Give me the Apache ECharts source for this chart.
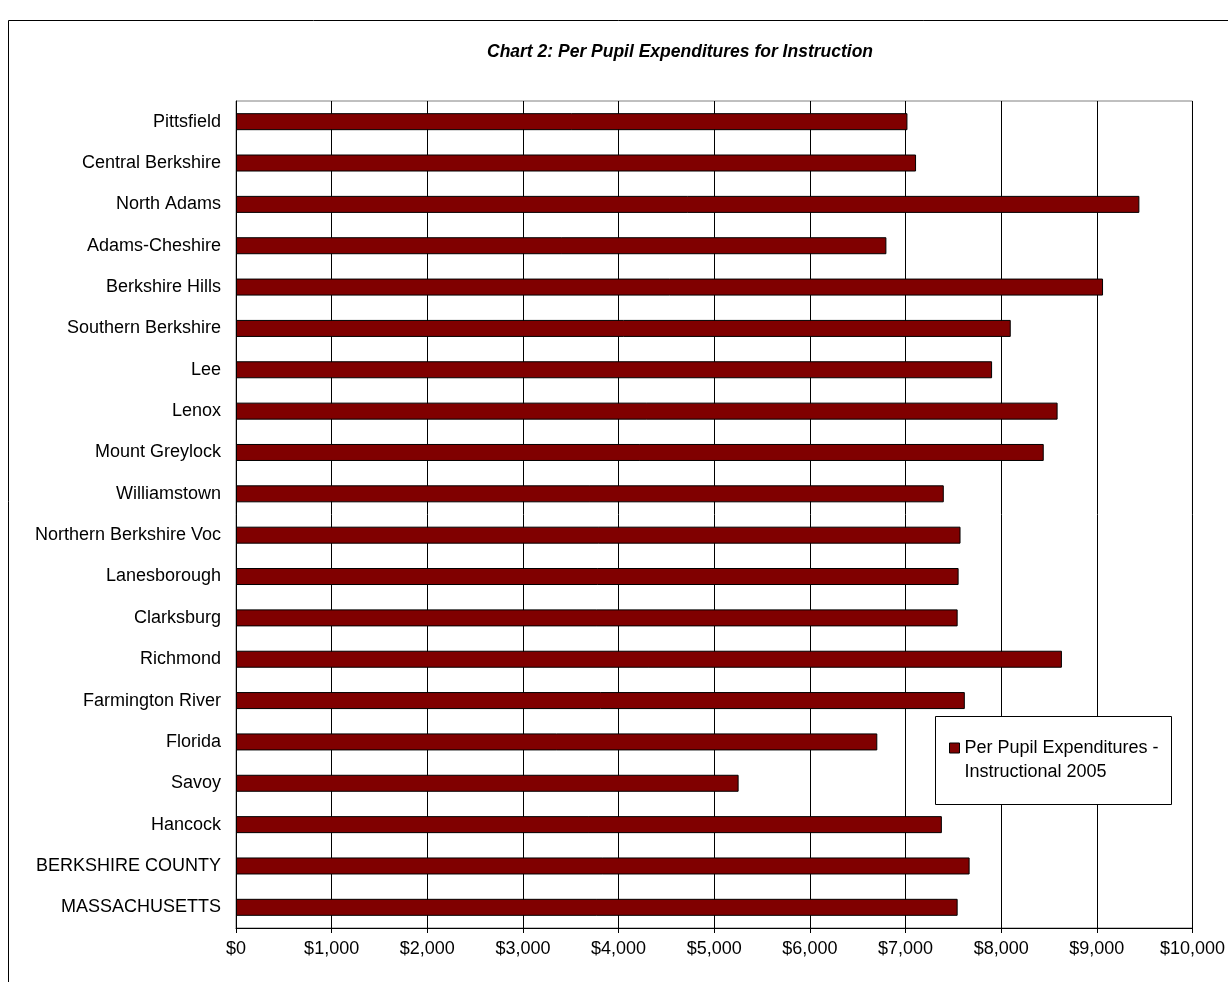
<!DOCTYPE html>
<html>
<head>
<meta charset="utf-8">
<script src="https://cdn.jsdelivr.net/npm/echarts@6/dist/echarts.min.js"></script>
<style>
html,body{margin:0;padding:0;background:#fff;}
#chart{width:1228px;height:982px;}
</style>
</head>
<body>
<div id="chart"></div>
<script>
const categories = ["Pittsfield","Central Berkshire","North Adams","Adams-Cheshire","Berkshire Hills","Southern Berkshire","Lee","Lenox","Mount Greylock","Williamstown","Northern Berkshire Voc","Lanesborough","Clarksburg","Richmond","Farmington River","Florida","Savoy","Hancock","BERKSHIRE COUNTY","MASSACHUSETTS"];
const values = [7020,7110,9445,6800,9065,8100,7905,8590,8445,7400,7575,7555,7545,8635,7620,6705,5255,7380,7670,7545];
const seriesName = "Per Pupil Expenditures - Instructional 2005";
const titleText = "Chart 2: Per Pupil Expenditures for Instruction";

const chart = echarts.init(document.getElementById('chart'));
const font = '"Liberation Sans", Arial, sans-serif';
chart.setOption({
  animation: false,
  backgroundColor: '#fff',
  title: {
    text: titleText,
    left: 482,
    top: 38,
    textStyle: {fontFamily: font, fontSize: 17.5, fontWeight: 'bold', fontStyle: 'italic', color: '#000'}
  },
  graphic: [
    {type: 'rect', z: 0, shape: {x: 8.5, y: 20.5, width: 1300, height: 1100}, style: {fill: null, stroke: '#000', lineWidth: 1}},
    {type: 'rect', z: 100, shape: {x: 935.5, y: 716.5, width: 236, height: 88}, style: {fill: '#fff', stroke: '#000', lineWidth: 1}}
  ],
  legend: {
    show: true,
    z: 200,
    left: 949,
    top: 712,
    padding: 0,
    itemWidth: 10,
    itemHeight: 10,
    itemGap: 0,
    icon: 'rect',
    formatter: function(){ return ' \nPer Pupil Expenditures -\nInstructional 2005'; },
    textStyle: {fontFamily: font, fontSize: 18, color: '#000', lineHeight: 24},
    itemStyle: {borderColor: '#000', borderWidth: 1}
  },
  grid: {left: 236, right: 33, top: 101, bottom: 54, show: true, borderColor: '#808080', borderWidth: 1},
  xAxis: {
    type: 'value', min: 0, max: 10000, interval: 1000,
    axisLine: {show: true, lineStyle: {color: '#000'}},
    axisTick: {show: true, length: 5, lineStyle: {color: '#000'}},
    splitLine: {show: true, lineStyle: {color: '#000', width: 1}},
    axisLabel: {fontFamily: font, fontSize: 18, color: '#000', margin: 12,
      formatter: function(v){ return '$' + v.toLocaleString('en-US'); }}
  },
  yAxis: {
    type: 'category', data: categories, inverse: true,
    axisLine: {show: true, lineStyle: {color: '#000'}},
    axisTick: {show: false},
    axisLabel: {fontFamily: font, fontSize: 18, color: '#000', margin: 15}
  },
  series: [{
    name: seriesName,
    type: 'bar',
    data: values,
    barWidth: 17,
    itemStyle: {color: '#800000', borderColor: '#000', borderWidth: 1}
  }]
});
</script>
</body>
</html>
